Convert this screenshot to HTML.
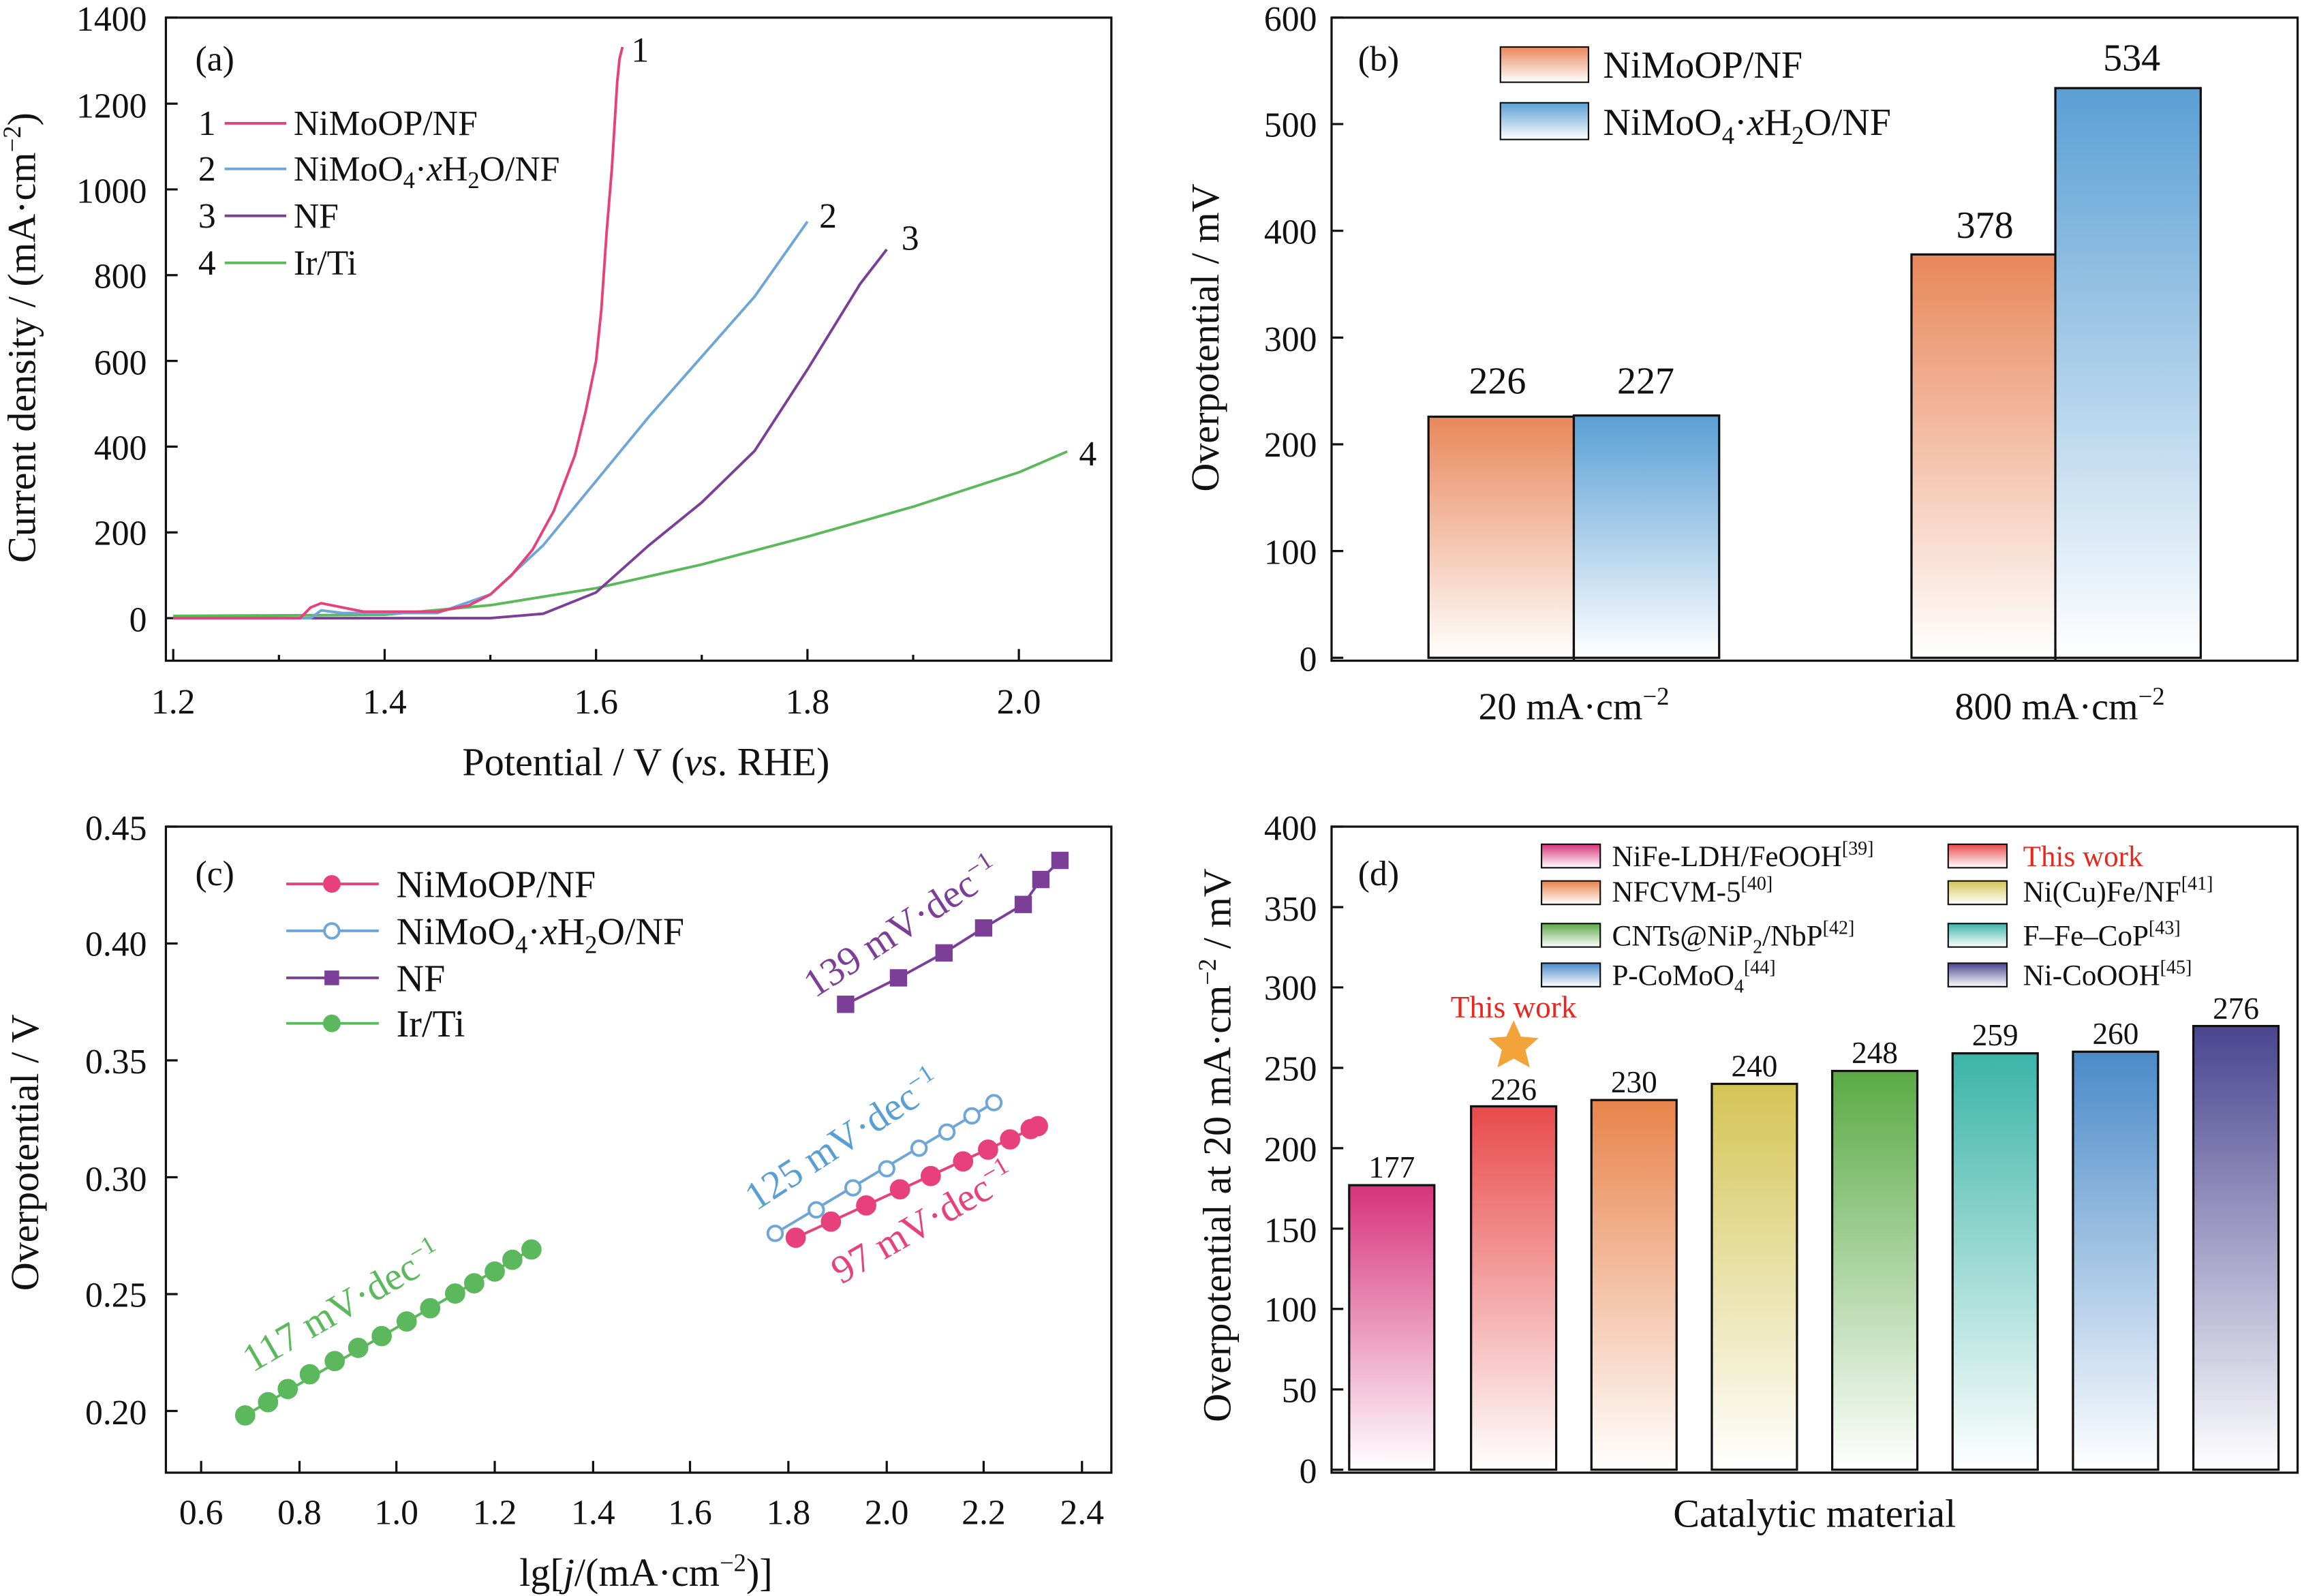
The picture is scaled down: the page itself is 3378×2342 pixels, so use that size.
<!DOCTYPE html>
<html><head><meta charset="utf-8"><style>html,body{margin:0;padding:0;background:#fff}svg{display:block}text{font-family:"Liberation Serif",serif;fill:#111}</style></head><body>
<svg width="3378" height="2342" viewBox="0 0 1568 1087" preserveAspectRatio="none" xmlns="http://www.w3.org/2000/svg">
<defs>
<linearGradient id="gO" x1="0" y1="0" x2="0" y2="1"><stop offset="0" stop-color="#e8875a"/><stop offset="1" stop-color="#fff"/></linearGradient>
<linearGradient id="gB" x1="0" y1="0" x2="0" y2="1"><stop offset="0" stop-color="#5a9fd4"/><stop offset="1" stop-color="#fff"/></linearGradient>
<linearGradient id="d1" x1="0" y1="0" x2="0" y2="1"><stop offset="0" stop-color="#d6337a"/><stop offset="1" stop-color="#fff"/></linearGradient>
<linearGradient id="d2" x1="0" y1="0" x2="0" y2="1"><stop offset="0" stop-color="#e84a4a"/><stop offset="1" stop-color="#fff"/></linearGradient>
<linearGradient id="d3" x1="0" y1="0" x2="0" y2="1"><stop offset="0" stop-color="#e8834a"/><stop offset="1" stop-color="#fff"/></linearGradient>
<linearGradient id="d4" x1="0" y1="0" x2="0" y2="1"><stop offset="0" stop-color="#d4c455"/><stop offset="1" stop-color="#fff"/></linearGradient>
<linearGradient id="d5" x1="0" y1="0" x2="0" y2="1"><stop offset="0" stop-color="#5aaa45"/><stop offset="1" stop-color="#fff"/></linearGradient>
<linearGradient id="d6" x1="0" y1="0" x2="0" y2="1"><stop offset="0" stop-color="#3bb4a8"/><stop offset="1" stop-color="#fff"/></linearGradient>
<linearGradient id="d7" x1="0" y1="0" x2="0" y2="1"><stop offset="0" stop-color="#4a8ac8"/><stop offset="1" stop-color="#fff"/></linearGradient>
<linearGradient id="d8" x1="0" y1="0" x2="0" y2="1"><stop offset="0" stop-color="#4a4590"/><stop offset="1" stop-color="#fff"/></linearGradient>
</defs>

<!-- Panel (a) -->
<g stroke="#111" stroke-width="1.5" fill="none">
<rect x="113" y="12" width="644" height="438"/>
<path d="M118 450v-8M262 450v-8M406 450v-8M550 450v-8M694 450v-8M190 450v-4M334 450v-4M478 450v-4M622 450v-4
M113 421h8M113 362.6h8M113 304.2h8M113 245.8h8M113 187.4h8M113 129h8M113 70.6h8M113 12h8"/>
</g>
<g font-size="24" text-anchor="end">
<text x="100" y="430">0</text><text x="100" y="371">200</text><text x="100" y="313">400</text><text x="100" y="255">600</text><text x="100" y="196">800</text><text x="100" y="138">1000</text><text x="100" y="80">1200</text><text x="100" y="21">1400</text>
</g>
<g font-size="24" text-anchor="middle">
<text x="118" y="486">1.2</text><text x="262" y="486">1.4</text><text x="406" y="486">1.6</text><text x="550" y="486">1.8</text><text x="694" y="486">2.0</text>
</g>
<text x="440" y="528" font-size="27" text-anchor="middle">Potential / V (<tspan font-style="italic">vs</tspan>. RHE)</text>
<text transform="translate(24,230) rotate(-90)" font-size="27" text-anchor="middle">Current density / (mA·cm<tspan font-size="17" dy="-10">−2</tspan><tspan dy="10">)</tspan></text>
<g fill="none" stroke-width="1.8">
<path stroke="#5cb85c" d="M118 419.5L262 418.7L334 412.2L406 400.6L478 384.5L550 365.5L622 345.1L694 321.7L727 307.5"/>
<path stroke="#7b3f98" d="M118 421L334 421L370 418L406 403.5L442 371.4L478 342.2L514 307.1L550 251.6L586 193.2L604 169.9"/>
<path stroke="#6ea6d8" d="M118 421L211.6 421L218.8 415.7L233.2 417.5L298 417.5L334 404.9L370 371.4L406 327.6L442 283.8L478 242.9L514 202L550 150.9"/>
<path stroke="#e8407a" d="M118 421L204.4 421L211.6 413.7L218.8 410.8L233.2 413.7L247.6 416.6L298 416.6L319.6 412.2L334 404.9L348.4 391.8L362.8 374.3L377.2 348L391.6 310L398.8 280.8L406 245.8L409.6 210.8L413.2 158.2L416.8 114.4L420.4 56L422 40L424 32"/>
</g>
<g font-size="24">
<text x="430" y="42">1</text><text x="558" y="155">2</text><text x="614" y="170">3</text><text x="735" y="317">4</text>
<text x="133" y="48">(a)</text>
<text x="135" y="92">1</text><text x="135" y="123">2</text><text x="135" y="155">3</text><text x="135" y="187">4</text>
<text x="200" y="92">NiMoOP/NF</text>
<text x="200" y="123">NiMoO<tspan font-size="16" dy="5">4</tspan><tspan dy="-5">·</tspan><tspan font-style="italic">x</tspan>H<tspan font-size="16" dy="5">2</tspan><tspan dy="-5">O/NF</tspan></text>
<text x="200" y="155">NF</text><text x="200" y="187">Ir/Ti</text>
</g>
<g stroke-width="1.8"><line x1="153" y1="84" x2="195" y2="84" stroke="#e8407a"/><line x1="153" y1="115" x2="195" y2="115" stroke="#6ea6d8"/><line x1="153" y1="147" x2="195" y2="147" stroke="#7b3f98"/><line x1="153" y1="179" x2="195" y2="179" stroke="#5cb85c"/></g>

<!-- Panel (b) -->
<rect x="973" y="283.8" width="99" height="164.2" fill="url(#gO)" stroke="#111" stroke-width="1.5"/>
<rect x="1072" y="283" width="99" height="165" fill="url(#gB)" stroke="#111" stroke-width="1.5"/>
<rect x="1302" y="173.3" width="98" height="274.7" fill="url(#gO)" stroke="#111" stroke-width="1.5"/>
<rect x="1400" y="60" width="99" height="388" fill="url(#gB)" stroke="#111" stroke-width="1.5"/>
<g stroke="#111" stroke-width="1.5" fill="none">
<rect x="907" y="12" width="658" height="438"/>
<path d="M907 448h8M907 375.3h8M907 302.6h8M907 229.9h8M907 157.2h8M907 84.5h8M907 12h8M1072 450v-8M1400 450v-8"/>
</g>
<g font-size="24" text-anchor="end">
<text x="897" y="457">0</text><text x="897" y="384">100</text><text x="897" y="311">200</text><text x="897" y="239">300</text><text x="897" y="166">400</text><text x="897" y="93">500</text><text x="897" y="21">600</text>
</g>
<g font-size="26" text-anchor="middle">
<text x="1020" y="268">226</text><text x="1121" y="268">227</text><text x="1352" y="162">378</text><text x="1452" y="48">534</text>
<text x="1072" y="490">20 mA·cm<tspan font-size="17" dy="-10">−2</tspan></text>
<text x="1403" y="490">800 mA·cm<tspan font-size="17" dy="-10">−2</tspan></text>
</g>
<text transform="translate(830,230) rotate(-90)" font-size="27" text-anchor="middle">Overpotential / mV</text>
<text x="925" y="48" font-size="24">(b)</text>
<rect x="1022" y="32" width="60" height="24" fill="url(#gO)" stroke="#111"/>
<rect x="1022" y="70" width="60" height="25" fill="url(#gB)" stroke="#111"/>
<g font-size="26"><text x="1092" y="53">NiMoOP/NF</text>
<text x="1092" y="92">NiMoO<tspan font-size="17" dy="6">4</tspan><tspan dy="-6">·</tspan><tspan font-style="italic">x</tspan>H<tspan font-size="17" dy="6">2</tspan><tspan dy="-6">O/NF</tspan></text></g>

<!-- Panel (c) -->
<g stroke="#111" stroke-width="1.5" fill="none">
<rect x="113" y="563" width="644" height="440"/>
<path d="M137 1003v-8M204 1003v-8M270 1003v-8M337 1003v-8M404 1003v-8M470 1003v-8M537 1003v-8M604 1003v-8M670 1003v-8M737 1003v-8
M113 961h8M113 881.4h8M113 801.8h8M113 722.2h8M113 642.6h8M113 563h8"/>
</g>
<g font-size="24" text-anchor="end">
<text x="100" y="970">0.20</text><text x="100" y="890">0.25</text><text x="100" y="811">0.30</text><text x="100" y="731">0.35</text><text x="100" y="651">0.40</text><text x="100" y="572">0.45</text>
</g>
<g font-size="24" text-anchor="middle">
<text x="137" y="1038">0.6</text><text x="204" y="1038">0.8</text><text x="270" y="1038">1.0</text><text x="337" y="1038">1.2</text><text x="404" y="1038">1.4</text><text x="470" y="1038">1.6</text><text x="537" y="1038">1.8</text><text x="604" y="1038">2.0</text><text x="670" y="1038">2.2</text><text x="737" y="1038">2.4</text>
</g>
<text x="440" y="1080" font-size="27" text-anchor="middle">lg[<tspan font-style="italic">j</tspan>/(mA·cm<tspan font-size="17" dy="-10">−2</tspan><tspan dy="10">)]</tspan></text>
<text transform="translate(26,785) rotate(-90)" font-size="27" text-anchor="middle">Overpotential / V</text>
<text x="133" y="603" font-size="24">(c)</text>
<!-- series c -->
<g stroke="#5cb85c" stroke-width="1.8" fill="#5cb85c">
<line x1="167" y1="964" x2="362" y2="851"/>
<g>
<circle cx="167" cy="964" r="6"/><circle cx="182.6" cy="955" r="6"/><circle cx="196" cy="946" r="6"/><circle cx="211" cy="936" r="6"/><circle cx="228" cy="927" r="6"/><circle cx="244" cy="918" r="6"/><circle cx="260" cy="910" r="6"/><circle cx="277" cy="900" r="6"/><circle cx="293" cy="891" r="6"/><circle cx="310" cy="881" r="6"/><circle cx="323" cy="874" r="6"/><circle cx="337" cy="866" r="6"/><circle cx="349" cy="858" r="6"/><circle cx="362" cy="851" r="6"/>
</g></g>
<g stroke="#6ea6d8" stroke-width="1.8" fill="#fff">
<line x1="528" y1="840" x2="677" y2="751"/>
<circle cx="528" cy="840" r="5"/><circle cx="556" cy="824" r="5"/><circle cx="581" cy="809" r="5"/><circle cx="604" cy="796" r="5"/><circle cx="626" cy="782" r="5"/><circle cx="645" cy="771" r="5"/><circle cx="662" cy="760" r="5"/><circle cx="677" cy="751" r="5"/>
</g>
<g stroke="#e8407a" stroke-width="1.8" fill="#e8407a">
<line x1="542" y1="843" x2="707" y2="767"/>
<circle cx="542" cy="843" r="6"/><circle cx="566" cy="832" r="6"/><circle cx="590" cy="821" r="6"/><circle cx="613" cy="810" r="6"/><circle cx="634" cy="801" r="6"/><circle cx="656" cy="791" r="6"/><circle cx="673" cy="783" r="6"/><circle cx="688" cy="776" r="6"/><circle cx="702" cy="769" r="6"/><circle cx="707" cy="767" r="6"/>
</g>
<g stroke="#7b3f98" stroke-width="1.8" fill="#7b3f98">
<polyline fill="none" points="576,684 612,666 643,649 670,632 697,616 709,599 722,586"/>
<rect x="571" y="679" width="10" height="10"/><rect x="607" y="661" width="10" height="10"/><rect x="638" y="644" width="10" height="10"/><rect x="665" y="627" width="10" height="10"/><rect x="692" y="611" width="10" height="10"/><rect x="704" y="594" width="10" height="10"/><rect x="717" y="581" width="10" height="10"/>
</g>
<g font-size="27">
<text transform="translate(555,680) rotate(-33)" fill="#7b3f98" style="fill:#7b3f98">139 mV·dec<tspan font-size="17" dy="-10">−1</tspan></text>
<text transform="translate(515,825) rotate(-33)" style="fill:#5a9fd4">125 mV·dec<tspan font-size="17" dy="-10">−1</tspan></text>
<text transform="translate(573,875) rotate(-30)" style="fill:#e8407a">97 mV·dec<tspan font-size="17" dy="-10">−1</tspan></text>
<text transform="translate(172,935) rotate(-30)" style="fill:#5cb85c">117 mV·dec<tspan font-size="17" dy="-10">−1</tspan></text>
</g>
<g stroke-width="1.8">
<line x1="195" y1="602" x2="258" y2="602" stroke="#e8407a"/><circle cx="226" cy="602" r="6" fill="#e8407a"/>
<line x1="195" y1="634" x2="258" y2="634" stroke="#6ea6d8"/><circle cx="226" cy="634" r="5" fill="#fff" stroke="#6ea6d8"/>
<line x1="195" y1="666" x2="258" y2="666" stroke="#7b3f98"/><rect x="221" y="661" width="10" height="10" fill="#7b3f98"/>
<line x1="195" y1="697" x2="258" y2="697" stroke="#5cb85c"/><circle cx="226" cy="697" r="6" fill="#5cb85c"/>
</g>
<g font-size="26">
<text x="270" y="611">NiMoOP/NF</text>
<text x="270" y="643">NiMoO<tspan font-size="17" dy="6">4</tspan><tspan dy="-6">·</tspan><tspan font-style="italic">x</tspan>H<tspan font-size="17" dy="6">2</tspan><tspan dy="-6">O/NF</tspan></text>
<text x="270" y="675">NF</text><text x="270" y="706">Ir/Ti</text>
</g>

<!-- Panel (d) -->
<g stroke="#111" stroke-width="1.5">
<rect x="919" y="807.2" width="58" height="193.8" fill="url(#d1)"/>
<rect x="1002" y="753.5" width="58" height="247.5" fill="url(#d2)"/>
<rect x="1084" y="749.2" width="58" height="251.8" fill="url(#d3)"/>
<rect x="1166" y="738.2" width="58" height="262.8" fill="url(#d4)"/>
<rect x="1248" y="729.4" width="58" height="271.6" fill="url(#d5)"/>
<rect x="1330" y="717.4" width="58" height="283.6" fill="url(#d6)"/>
<rect x="1412" y="716.3" width="58" height="284.7" fill="url(#d7)"/>
<rect x="1494" y="698.8" width="58" height="302.2" fill="url(#d8)"/>
</g>
<g stroke="#111" stroke-width="1.5" fill="none">
<rect x="907" y="563" width="658" height="440"/>
<path d="M907 1001h8M907 946.3h8M907 891.5h8M907 836.8h8M907 782h8M907 727.3h8M907 672.5h8M907 617.8h8M907 563h8"/>
</g>
<g font-size="24" text-anchor="end">
<text x="897" y="1010">0</text><text x="897" y="955">50</text><text x="897" y="900">100</text><text x="897" y="846">150</text><text x="897" y="791">200</text><text x="897" y="736">250</text><text x="897" y="681">300</text><text x="897" y="627">350</text><text x="897" y="572">400</text>
</g>
<g font-size="21" text-anchor="middle">
<text x="948" y="802">177</text><text x="1031" y="749">226</text><text x="1113" y="744">230</text><text x="1195" y="733">240</text><text x="1277" y="724">248</text><text x="1359" y="712">259</text><text x="1441" y="711">260</text><text x="1523" y="694">276</text>
</g>
<text x="1031" y="693" font-size="21" text-anchor="middle" style="fill:#e8281e">This work</text>
<polygon points="1031,695 1036,706 1048,707 1039,715 1042,727 1031,721 1020,727 1023,715 1014,707 1026,706" fill="#f2a33a"/>
<text transform="translate(838,780) rotate(-90)" font-size="27" text-anchor="middle">Overpotential at 20 mA·cm<tspan font-size="17" dy="-10">−2</tspan><tspan dy="10"> / mV</tspan></text>
<text x="1236" y="1040" font-size="27" text-anchor="middle">Catalytic material</text>
<text x="925" y="603" font-size="24">(d)</text>
<g stroke="#111" stroke-width="1">
<rect x="1050" y="575" width="40" height="16" fill="url(#d1)"/>
<rect x="1050" y="600" width="40" height="16" fill="url(#d3)"/>
<rect x="1050" y="629" width="40" height="16" fill="url(#d5)"/>
<rect x="1050" y="656" width="40" height="16" fill="url(#d7)"/>
<rect x="1327" y="575" width="40" height="16" fill="url(#d2)"/>
<rect x="1327" y="600" width="40" height="16" fill="url(#d4)"/>
<rect x="1327" y="629" width="40" height="16" fill="url(#d6)"/>
<rect x="1327" y="656" width="40" height="16" fill="url(#d8)"/>
</g>
<g font-size="20">
<text x="1098" y="590">NiFe-LDH/FeOOH<tspan font-size="13" dy="-8">[39]</tspan></text>
<text x="1098" y="614">NFCVM-5<tspan font-size="13" dy="-8">[40]</tspan></text>
<text x="1098" y="644">CNTs@NiP<tspan font-size="13" dy="5">2</tspan><tspan dy="-5">/NbP</tspan><tspan font-size="13" dy="-8">[42]</tspan></text>
<text x="1098" y="671">P-CoMoO<tspan font-size="13" dy="5">4</tspan><tspan font-size="13" dy="-13">[44]</tspan></text>
<text x="1378" y="590" style="fill:#e8281e">This work</text>
<text x="1378" y="614">Ni(Cu)Fe/NF<tspan font-size="13" dy="-8">[41]</tspan></text>
<text x="1378" y="644">F–Fe–CoP<tspan font-size="13" dy="-8">[43]</tspan></text>
<text x="1378" y="671">Ni-CoOOH<tspan font-size="13" dy="-8">[45]</tspan></text>
</g>
</svg>
</body></html>
